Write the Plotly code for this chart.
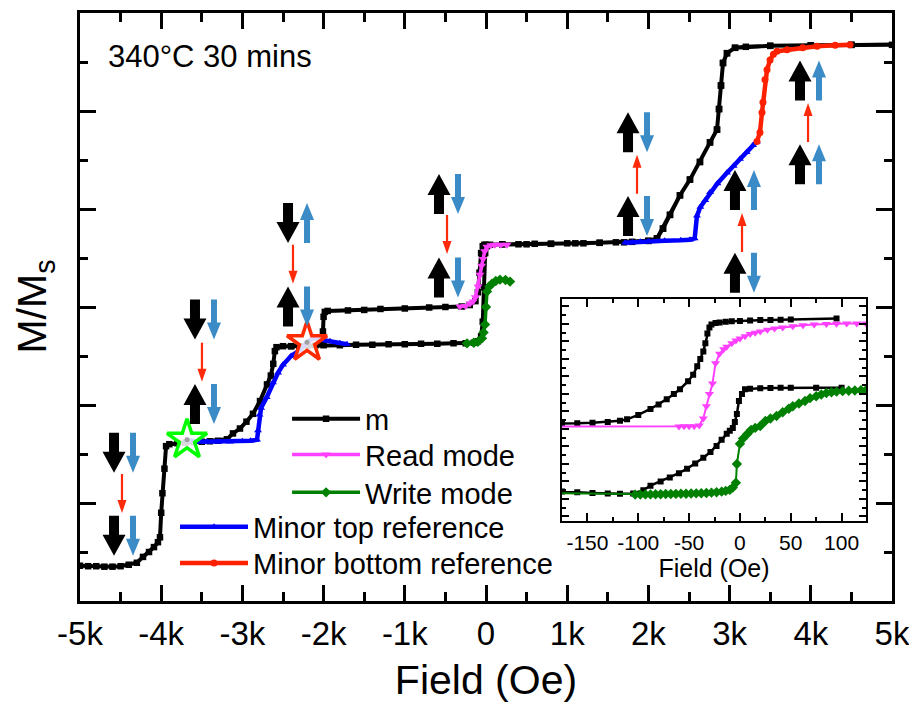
import plotly.graph_objects as go

FONT = "Liberation Sans, Arial, sans-serif"

# ---------------- main loop "m" (field in Oe, magnetisation in plot units) ----------------
m_x = [-5000, -4900, -4800, -4700, -4600, -4500, -4400, -4300, -4224, -4150, -4089, -4040, -4015,
       -4000, -3985, -3960, -3940, -3900, -3800, -3700, -3600, -3500, -3400, -3300, -3190, -3116,
       -3030, -2950, -2870, -2783, -2697, -2650, -2620, -2600, -2580, -2500, -2400, -2300, -2200,
       -2000, -1800, -1600, -1400, -1200, -1000, -800, -600, -400, -250, -150, -100, -60, -40, -25,
       -10, 10, 50, 200, 400, 600, 800, 1000, 1200, 1400, 1600, 1800, 2000, 2106, 2180, 2266, 2389,
       2512, 2635, 2759, 2845, 2870, 2894, 2919, 2968, 3067, 3200, 3500, 4000, 4500, 5000,
       4500, 4000, 3500, 3067, 2968, 2919, 2894, 2870, 2845, 2759, 2635, 2512, 2389, 2266, 2180,
       2106, 2000, 1700, 1400, 1100, 800, 500, 200, 0, -20, -40, -60, -80, -100, -130, -200, -300,
       -500, -700, -1000, -1300, -1500, -1700, -1950, -1985, -2000, -2008, -2020, -2100, -2300, -2400]
m_y = [-2.64, -2.645, -2.645, -2.65, -2.65, -2.645, -2.63, -2.61, -2.55, -2.50, -2.45, -2.40, -2.35,
       -2.10, -1.90, -1.65, -1.42, -1.40, -1.39, -1.385, -1.38, -1.375, -1.37, -1.365, -1.35, -1.29,
       -1.24, -1.17, -1.09, -0.96, -0.79, -0.70, -0.58, -0.45, -0.41, -0.40, -0.40, -0.40, -0.395,
       -0.39, -0.39, -0.385, -0.385, -0.38, -0.38, -0.375, -0.375, -0.37, -0.37, -0.365, -0.35, -0.30,
       -0.15, 0.20, 0.55, 0.62, 0.635, 0.64, 0.64, 0.645, 0.645, 0.65, 0.65, 0.655, 0.66, 0.665, 0.675,
       0.70, 0.80, 0.94, 1.14, 1.30, 1.48, 1.68, 1.81, 2.02, 2.26, 2.49, 2.59, 2.645, 2.655, 2.665,
       2.67, 2.675, 2.675,
       2.675, 2.67, 2.665, 2.645, 2.59, 2.49, 2.26, 2.02, 1.81, 1.68, 1.48, 1.30, 1.14, 0.94, 0.80,
       0.70, 0.675, 0.66, 0.655, 0.65, 0.645, 0.64, 0.64, 0.635, 0.635, 0.62, 0.55, 0.35, 0.15, 0.06,
       0.02, 0.005, 0.0, -0.005, -0.015, -0.02, -0.03, -0.035, -0.04, -0.05, -0.10, -0.25, -0.36,
       -0.39, -0.40, -0.40]

# ---------------- read / write modes ----------------
read_x = [-320, -250, -197, -160, -130, -98, -74, -55, -37, -15, 12, 60, 110, 180, 258]
read_y = [0.005, 0.01, 0.035, 0.056, 0.10, 0.21, 0.33, 0.42, 0.49, 0.57, 0.614, 0.63, 0.635, 0.635, 0.635]

write_x = [-234, -150, -100, -49, -30, -12, 0, 12, 40, 74, 120, 172, 240, 296]
write_y = [-0.371, -0.365, -0.355, -0.32, -0.26, -0.178, 0.0, 0.157, 0.21, 0.239, 0.265, 0.279, 0.275, 0.259]

# ---------------- minor loops ----------------
minor_top_x = [-3682, -3600, -3500, -3436, -3300, -3153, -3000, -2900, -2820, -2808, -2790, -2770,
               -2700, -2623, -2560, -2500, -2400, -2291, -2204, -2131, -2050, -1921, -1800, -1712,
               None,
               1712, 1800, 1900, 2000, 2200, 2400, 2512, 2570, 2598, 2640, 2700, 2759, 2850, 2968,
               3050, 3128, 3210, 3288, 3337]
minor_top_y = [-1.355, -1.37, -1.375, -1.375, -1.375, -1.375, -1.37, -1.365, -1.355, -1.26, -1.10,
               -1.03, -0.92, -0.77, -0.67, -0.59, -0.50, -0.44, -0.36, -0.32, -0.33, -0.35, -0.37,
               -0.38,
               None,
               0.655, 0.66, 0.665, 0.67, 0.675, 0.68, 0.685, 0.70, 0.93, 1.02, 1.09, 1.17, 1.26, 1.37,
               1.44, 1.51, 1.58, 1.65, 1.69]

minor_bottom_x = [3337, 3374, 3399, 3411, 3436, 3461, 3498, 3540, 3584, 3707, 3900, 4076, 4300, 4483]
minor_bottom_y = [1.69, 1.78, 1.985, 2.09, 2.32, 2.42, 2.52, 2.58, 2.61, 2.625, 2.645, 2.66, 2.67, 2.675]

star_x = [-3682, -2204]
star_y = [-1.355, -0.36]
star_colors = ["#00FF00", "#FF2A00"]

# ---------------- inset data ----------------
in_m_read_x = [-300, -175, -160, -145, -130, -118, -111, -100, -88, -80, -72, -65, -59, -51, -46, -42,
               -39, -36, -34, -32, -30, -28, -24, -20, -14, -8, 0, 10, 20, 30, 40, 50, 95]
in_m_read_y = [5.30, 5.30, 5.32, 5.35, 5.40, 5.47, 5.55, 5.80, 6.14, 6.40, 6.70, 7.00, 7.27, 7.73, 8.10,
               8.58, 9.00, 9.43, 9.90, 10.45, 10.80, 10.97, 11.05, 11.08, 11.12, 11.15, 11.17, 11.20,
               11.22, 11.23, 11.24, 11.25, 11.31]
in_read_x = [-300, -60, -55, -50, -45, -40, -36, -33, -30, -27, -24, -20, -16, -13, -8, -4, 0, 5, 10,
             15, 20, 27, 34, 42, 52, 62, 73, 85, 95, 105, 115, 124]
in_read_y = [5.12, 5.14, 5.15, 5.15, 5.16, 5.20, 5.60, 6.30, 7.00, 7.60, 8.75, 9.30, 9.55, 9.70, 9.90,
             10.05, 10.17, 10.30, 10.42, 10.50, 10.57, 10.66, 10.74, 10.80, 10.87, 10.93, 10.97, 11.00,
             11.01, 11.02, 11.02, 11.03]
in_m_write_x = [-300, -175, -160, -145, -130, -118, -105, -95, -88, -78, -69, -60, -52, -44, -36, -29,
                -23, -18, -13, -10, -7, -5, -3, -1, 2, 5, 10, 20, 30, 40, 50, 75, 100]
in_m_write_y = [1.42, 1.42, 1.38, 1.34, 1.31, 1.30, 1.31, 1.50, 1.76, 2.00, 2.22, 2.47, 2.73, 3.02, 3.35,
                3.68, 4.03, 4.38, 4.72, 4.90, 5.06, 5.40, 5.85, 6.60, 7.00, 7.27, 7.30, 7.33, 7.34, 7.35,
                7.35, 7.35, 7.35]
in_write_x = [-300, -103, -98, -93, -88, -83, -78, -73, -68, -63, -58, -53, -48, -43, -38, -33, -28,
              -23, -18, -14, -10, -7, -4, -3, 0, 3, 7, 11, 15, 20, 25, 30, 36, 42, 48, 52, 58, 64, 69,
              75, 80, 85, 90, 95, 101, 107, 113, 119, 124]
in_write_y = [1.40, 1.25, 1.25, 1.26, 1.26, 1.27, 1.27, 1.28, 1.28, 1.29, 1.30, 1.30, 1.31, 1.32, 1.33,
              1.34, 1.36, 1.38, 1.42, 1.46, 1.52, 1.65, 1.93, 3.00, 4.15, 4.45, 4.70, 4.95, 5.06, 5.17,
              5.45, 5.60, 5.74, 5.95, 6.15, 6.30, 6.45, 6.60, 6.76, 6.87, 6.97, 7.05, 7.10, 7.13, 7.16,
              7.18, 7.20, 7.21, 7.22]

# ---------------- spin-state arrow annotations ----------------
state_x = [-4581, -4581, -3584, -3584, -2438, -2438, -579, -579, 1749, 1749, 3066, 3066, 3867, 3867]
state_y = [-1.487, -2.335, -0.127, -0.990, 0.858, 0.005, 1.152, 0.300, 1.782, 0.929, 1.193, 0.350,
           2.310, 1.457]
black_dir = [-1, -1, -1, 1, -1, 1, 1, 1, 1, 1, 1, 1, 1, 1]
blue_dir = [-1, -1, -1, -1, 1, -1, -1, -1, -1, -1, 1, -1, 1, 1]
trans_x = [-4483, -3498, -2377, -480, 1860, 3153, 3966]
trans_y = [-1.904, -0.563, 0.437, 0.741, 1.355, 0.761, 1.883]
trans_dir = [-1, -1, -1, -1, 1, 1, 1]

x_ticks = [-5000, -4000, -3000, -2000, -1000, 0, 1000, 2000, 3000, 4000, 5000]
x_labels = ["-5k", "-4k", "-3k", "-2k", "-1k", "0", "1k", "2k", "3k", "4k", "5k"]
inset_ticks = [-150, -100, -50, 0, 50, 100]

fig = go.Figure()

fig.add_trace(go.Scatter(x=m_x, y=m_y, name="m", mode="lines+markers", legend="legend",
                         line=dict(color="black", width=4),
                         marker=dict(symbol="square", size=6.5, color="black")))
fig.add_trace(go.Scatter(x=read_x, y=read_y, name="Read mode", mode="lines+markers", legend="legend2",
                         line=dict(color="#FF40FF", width=3.5),
                         marker=dict(symbol="triangle-down", size=8, color="#FF40FF")))
fig.add_trace(go.Scatter(x=write_x, y=write_y, name="Write mode", mode="lines+markers", legend="legend3",
                         line=dict(color="#008000", width=3.5),
                         marker=dict(symbol="diamond", size=8, color="#008000")))
fig.add_trace(go.Scatter(x=minor_top_x, y=minor_top_y, name="Minor top reference", mode="lines+markers",
                         legend="legend4", line=dict(color="#0000FF", width=4.5),
                         marker=dict(symbol="triangle-up", size=7, color="#0000FF")))
fig.add_trace(go.Scatter(x=minor_bottom_x, y=minor_bottom_y, name="Minor bottom reference",
                         mode="lines+markers", legend="legend5", line=dict(color="#FF2000", width=4.5),
                         marker=dict(symbol="circle", size=7, color="#FF2000")))
fig.add_trace(go.Scatter(x=star_x, y=star_y, mode="markers", showlegend=False, hoverinfo="skip",
                         marker=dict(symbol="star", size=30, color="rgba(255,255,255,0.85)",
                                     line=dict(color=star_colors, width=3.5))))
fig.add_trace(go.Scatter(x=star_x, y=star_y, mode="markers", showlegend=False, hoverinfo="skip",
                         marker=dict(symbol="circle", size=5, color="#A0A0A0")))

# inset
inset_style = dict(xaxis="x2", yaxis="y2", mode="lines+markers", showlegend=False)
fig.add_trace(go.Scatter(x=in_m_read_x, y=in_m_read_y, line=dict(color="black", width=2.5),
                         marker=dict(symbol="square", size=6, color="black"), **inset_style))
fig.add_trace(go.Scatter(x=in_read_x, y=in_read_y, line=dict(color="#FF40FF", width=2),
                         marker=dict(symbol="triangle-down", size=8, color="#FF40FF"), **inset_style))
fig.add_trace(go.Scatter(x=in_m_write_x, y=in_m_write_y, line=dict(color="black", width=2.5),
                         marker=dict(symbol="square", size=6, color="black"), **inset_style))
fig.add_trace(go.Scatter(x=in_write_x, y=in_write_y, line=dict(color="#008000", width=2),
                         marker=dict(symbol="diamond", size=8, color="#008000"), **inset_style))


def arrow_path(cx, direction, length, shaft, head_w, head_len):
    h = length / 2.0
    pts = [(-shaft / 2, -h), (shaft / 2, -h), (shaft / 2, h - head_len), (head_w / 2, h - head_len),
           (0, h), (-head_w / 2, h - head_len), (-shaft / 2, h - head_len)]
    return "M" + " L".join(f"{cx + px:.1f},{direction * py:.1f}" for px, py in pts) + " Z"


shapes = []
for sx, sy, bd, ud in zip(state_x, state_y, black_dir, blue_dir):
    shapes.append(dict(type="path", xref="x", yref="y", xsizemode="pixel", ysizemode="pixel",
                       xanchor=sx, yanchor=sy, path=arrow_path(0, bd, 40, 10, 23, 21),
                       fillcolor="black", line=dict(width=0)))
    shapes.append(dict(type="path", xref="x", yref="y", xsizemode="pixel", ysizemode="pixel",
                       xanchor=sx, yanchor=sy, path=arrow_path(19, ud, 40, 6, 14, 17),
                       fillcolor="#3B8BC6", line=dict(width=0)))
for tx, ty, td in zip(trans_x, trans_y, trans_dir):
    shapes.append(dict(type="path", xref="x", yref="y", xsizemode="pixel", ysizemode="pixel",
                       xanchor=tx, yanchor=ty, path=arrow_path(0, td, 39, 2.2, 9, 13),
                       fillcolor="#FF2A0A", line=dict(width=0)))

axis_common = dict(showline=True, linecolor="black", mirror="allticks", ticks="inside",
                   tickcolor="black", showgrid=False, zeroline=False)


def legend_box(x, y):
    return dict(x=x, y=y, xanchor="left", yanchor="middle", bgcolor="rgba(0,0,0,0)",
                font=dict(size=29, family=FONT), itemwidth=68, borderwidth=0)


fig.update_layout(
    width=909, height=698,
    margin=dict(l=72, r=25, t=2, b=105),
    paper_bgcolor="white", plot_bgcolor="white",
    font=dict(family=FONT, color="black"),
    xaxis=dict(range=[-5000, 5000], tickmode="array", tickvals=x_ticks, ticktext=x_labels,
               ticklen=16, tickwidth=2.5, linewidth=2.5, ticklabelstandoff=2,
               tickfont=dict(size=33, family=FONT), tickangle=0,
               minor=dict(tickmode="linear", tick0=0, dtick=500, ticklen=9, tickwidth=2.5,
                          ticks="inside", tickcolor="black"),
               title=dict(text="Field (Oe)", font=dict(size=41, family=FONT), standoff=14),
               **axis_common),
    yaxis=dict(range=[-3, 3], tick0=0, dtick=1, showticklabels=False, ticklen=16, tickwidth=2.5,
               linewidth=2.5,
               minor=dict(tick0=0, dtick=0.5, ticklen=8, tickwidth=2.5, ticks="inside",
                          tickcolor="black"),
               **axis_common),
    xaxis2=dict(domain=[0.5936, 0.968], anchor="y2", range=[-175, 124], tickmode="array",
                tickvals=inset_ticks, ticktext=[str(v) for v in inset_ticks], tickangle=0,
                ticklen=8, tickwidth=2, linewidth=2,
                ticklabelstandoff=1, tickfont=dict(size=21, family=FONT),
                minor=dict(tickmode="linear", tick0=0, dtick=25, ticklen=4, tickwidth=2,
                           ticks="inside", tickcolor="black"),
                title=dict(text="Field (Oe)", font=dict(size=25, family=FONT), standoff=2),
                **axis_common),
    yaxis2=dict(domain=[0.1354, 0.5144], anchor="x2", range=[-0.28, 12.45], tick0=0, dtick=1,
                showticklabels=False, ticklen=7, tickwidth=2, linewidth=2,
                minor=dict(tick0=0, dtick=0.5, ticklen=4, tickwidth=2, ticks="inside",
                           tickcolor="black"),
                **axis_common),
    legend=legend_box(0.255, 0.3096),
    legend2=legend_box(0.255, 0.2487),
    legend3=legend_box(0.255, 0.1845),
    legend4=legend_box(0.117, 0.1262),
    legend5=legend_box(0.117, 0.0643),
    shapes=shapes,
    annotations=[
        dict(text="340°C 30 mins", x=0.160, y=0.926, xref="paper", yref="paper",
             xanchor="center", yanchor="middle", showarrow=False, font=dict(size=31, family=FONT)),
        dict(text="M/M<sub>s</sub>", x=-0.0554, y=0.5008, xref="paper", yref="paper",
             xanchor="center", yanchor="middle", textangle=-90, showarrow=False,
             font=dict(size=41, family=FONT)),
    ],
)

fig.write_html("out.html")
